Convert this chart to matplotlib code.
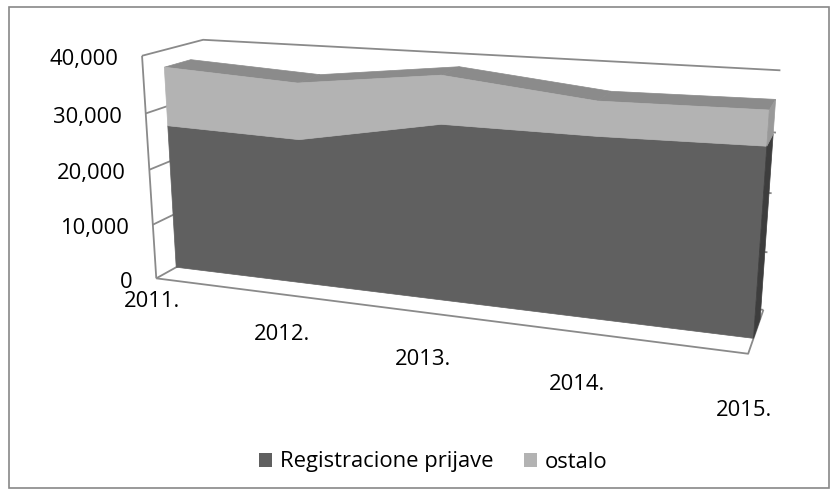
import matplotlib
matplotlib.use("Agg")
import matplotlib.pyplot as plt
from matplotlib.patches import Polygon, Rectangle, Patch
import numpy as np

# podaci
years = ["2011.", "2012.", "2013.", "2014.", "2015."]
registracije = [26500, 25900, 30400, 30300, 30700]
ostalo = [10500, 9800, 8100, 5600, 5500]
y_ticks = [0, 10000, 20000, 30000, 40000]
series_names = ["Registracione prijave", "ostalo"]

Y_MAX = 40000
W, H = 838, 496
FONT_SIZE = 15.8

COL_DARK = "#606060"
COL_LIGHT = "#b3b3b3"
COL_TOP = "#8b8b8b"
COL_SIDE_DARK = "#3d3d3d"
COL_SIDE_LIGHT = "#999999"
COL_GRID = "#8a8a8a"

SLAB = (0.33, 0.77)   # dubina serije (prednja / zadnja strana)

# 3d box (x = kategorija 0..1, d = dubina 0..1, z = vrijednost 0..1) -> pixel,
# koristi se samo za kalibraciju kamere (perspektiva kao u excelu)
view_3d = [(0, 0, 0), (0, 0, 0.25), (0, 0, 0.75), (0, 0, 1), (1, 0, 0), (0, 1, 1),
           (1, 1, 1), (1, 1, 0.75), (1, 1, 0.5), (1, 1, 0.25), (1, 1, 0)]
view_px = [(156, 279), (153, 224), (147, 113), (141, 56), (748, 354), (203, 40),
           (781, 71), (776, 132), (771, 193), (767, 252), (764, 310)]


def fit_camera(pts3, pts2):
    pts2 = np.array(pts2, dtype=float)
    m = pts2.mean(axis=0)
    s = 1.0 / pts2.std()
    T = np.array([[s, 0, -s * m[0]], [0, s, -s * m[1]], [0, 0, 1]])
    rows = []
    for (X, Y, Z), (u, v) in zip(pts3, pts2):
        u, v = s * (u - m[0]), s * (v - m[1])
        rows.append([X, Y, Z, 1, 0, 0, 0, 0, -u * X, -u * Y, -u * Z, -u])
        rows.append([0, 0, 0, 0, X, Y, Z, 1, -v * X, -v * Y, -v * Z, -v])
    _, _, vt = np.linalg.svd(np.array(rows))
    return np.linalg.inv(T) @ vt[-1].reshape(3, 4)


CAM = fit_camera(view_3d, view_px)


def proj(x, d, z):
    p = CAM @ np.array([x, d, z, 1.0])
    return p[0] / p[2], p[1] / p[2]


def poly(ax, pts, color, z=2):
    xy = [proj(*p) for p in pts]
    ax.add_patch(Polygon(xy, closed=True, facecolor=color, edgecolor=color,
                         lw=0.5, zorder=z))


def line3d(ax, pts, z=1):
    xy = np.array([proj(*p) for p in pts])
    ax.plot(xy[:, 0], xy[:, 1], color=COL_GRID, lw=1.3, zorder=z,
            solid_capstyle="butt")


plt.rcParams['font.family'] = ['Open Sans', 'DejaVu Sans']

fig = plt.figure(figsize=(W / 100, H / 100), dpi=100)
ax = fig.add_axes([0, 0, 1, 1])
ax.set_xlim(0, W)
ax.set_ylim(H, 0)
ax.axis('off')

# okvir grafikona
ax.add_patch(Rectangle((9, 7), 820, 481, fill=False, edgecolor="#888888", lw=1.2))

# zidovi i pod
for t in y_ticks:
    z = t / Y_MAX
    line3d(ax, [(0, 0, z), (0, 1, z), (1, 1, z)])
line3d(ax, [(0, 0, 0), (0, 0, 1)])
line3d(ax, [(0, 0, 0), (1, 0, 0), (1, 1, 0)])

# serije
xs = np.linspace(0, 1, len(years))
low = np.zeros(len(years))
mid = np.array(registracije) / Y_MAX
top = (np.array(registracije) + np.array(ostalo)) / Y_MAX
d0, d1 = SLAB

for i in range(len(xs) - 1):
    poly(ax, [(xs[i], d0, top[i]), (xs[i + 1], d0, top[i + 1]),
              (xs[i + 1], d1, top[i + 1]), (xs[i], d1, top[i])], COL_TOP)

for lo, hi, col in [(low, mid, COL_DARK), (mid, top, COL_LIGHT)]:
    pts = [(xs[i], d0, hi[i]) for i in range(len(xs))]
    pts += [(xs[i], d0, lo[i]) for i in range(len(xs) - 1, -1, -1)]
    poly(ax, pts, col, z=3)

for lo, hi, col in [(low[-1], mid[-1], COL_SIDE_DARK), (mid[-1], top[-1], COL_SIDE_LIGHT)]:
    poly(ax, [(1, d0, lo), (1, d1, lo), (1, d1, hi), (1, d0, hi)], col, z=4)

# oznake osi
for t in y_ticks:
    px, py = proj(0, 0, t / Y_MAX)
    ax.text(px - 24, py + 4, f"{t:,}", ha='right', va='center', fontsize=FONT_SIZE)

for i, yr in enumerate(years):
    px, py = proj(xs[i], 0, 0)
    ax.text(px - 4, py + 23 + 34 * np.sqrt(xs[i]), yr, ha='center', va='center',
            fontsize=FONT_SIZE)

handles = [Patch(facecolor=COL_DARK), Patch(facecolor=COL_LIGHT)]
ax.legend(handles, series_names, loc='center', bbox_to_anchor=(433 / W, 1 - 462 / H),
          ncol=2, frameon=False, fontsize=FONT_SIZE, handlelength=0.6,
          handleheight=0.6, handletextpad=0.35, columnspacing=1.4)

fig.savefig("out.png", dpi=100)
